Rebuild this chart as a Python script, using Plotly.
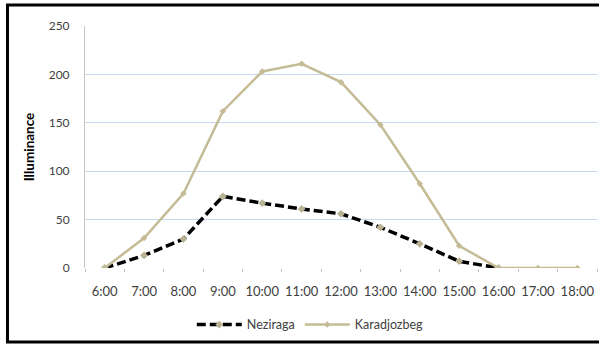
import plotly.graph_objects as go

# Hourly illuminance readings at the two locations
hours = ["6:00", "7:00", "8:00", "9:00", "10:00", "11:00", "12:00",
         "13:00", "14:00", "15:00", "16:00", "17:00", "18:00"]
neziraga = [0, 13, 30, 74, 67, 61, 56, 42, 25, 7, 0, None, None]
karadjozbeg = [0, 31, 77, 162, 203, 211, 192, 148, 87, 23, 0, 0, 0]

TAN = "#c4bc96"
FONT = "Lato, 'Open Sans', sans-serif"
TEXT = "#404040"

fig = go.Figure()

fig.add_trace(go.Scatter(
    x=hours, y=neziraga, name="Neziraga", mode="lines+markers",
    line=dict(color="black", width=3.5, dash="9px,4px"),
    marker=dict(symbol="diamond", size=6, color="#b9b394"),
    connectgaps=False,
))
fig.add_trace(go.Scatter(
    x=hours, y=karadjozbeg, name="Karadjozbeg", mode="lines+markers",
    line=dict(color=TAN, width=2.5),
    marker=dict(symbol="diamond", size=5, color=TAN),
))

# Frame around the chart
fig.add_shape(type="rect", xref="paper", yref="paper",
              x0=-0.1514, x1=1.02, y0=-0.3058, y1=1.0868,
              line=dict(color="black", width=3), fillcolor="rgba(0,0,0,0)",
              layer="above")

fig.update_layout(
    width=599, height=345,
    margin=dict(l=85, r=2, t=26, b=77, autoexpand=False),
    paper_bgcolor="white", plot_bgcolor="white",
    font=dict(family=FONT, size=12, color=TEXT),
    showlegend=True,
    legend=dict(orientation="h", x=0.44, y=-0.2355, xanchor="center",
                yanchor="middle", font=dict(size=12.5, color=TEXT),
                itemwidth=45, traceorder="normal"),
)

fig.update_xaxes(
    type="category", range=[-0.5, 12.5], automargin=False,
    showline=False, showgrid=False, zeroline=False,
    ticks="outside", tickson="boundaries", ticklen=3, tickcolor="#bfbfbf",
    ticklabelstandoff=14, tickangle=0,
    tickfont=dict(size=13, color=TEXT),
)
fig.update_yaxes(
    range=[0, 250], dtick=50, automargin=False,
    showline=True, linecolor="#c8c8c8", linewidth=1,
    showgrid=True, gridcolor="#c6d9f1", gridwidth=1,
    zeroline=False, ticks="", ticklabelstandoff=12,
    tickfont=dict(size=12, color=TEXT),
    title=dict(text="<b>Illuminance</b>", standoff=10,
               font=dict(size=13.5, color="black")),
)

fig.write_html("out.html")
